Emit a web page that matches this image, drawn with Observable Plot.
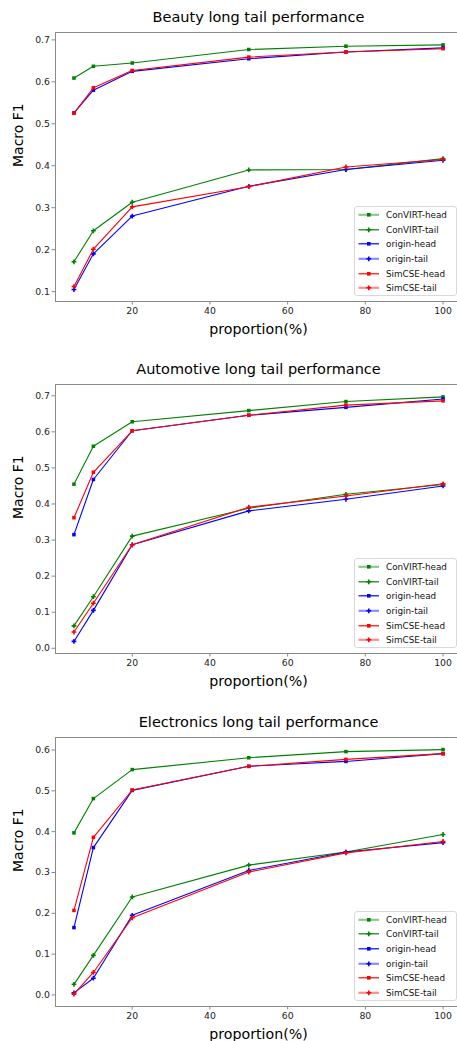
<!DOCTYPE html>
<html>
<head>
<meta charset="utf-8">
<script src="https://cdn.jsdelivr.net/npm/d3@7"></script>
<script src="https://cdn.jsdelivr.net/npm/@observablehq/plot@0.6"></script>
<style>
  html, body { margin: 0; padding: 0; background: #fff; }
  #root { position: relative; width: 457px; height: 1041px; overflow: hidden; font-family: "DejaVu Sans", sans-serif; }
  .panel { position: absolute; left: 0; width: 462px; height: 345px; }
  .legend { position: absolute; left: 354px; width: 101px; height: 88px; border: 1px solid #d9d9d9; border-radius: 3px; background: rgba(255,255,255,0.85); box-sizing: content-box; }
  .legend .row { position: absolute; left: 0; height: 14px; display: flex; align-items: center; }
  .legend .row span { font-size: 8.8px; color: #111; margin-left: 7px; white-space: nowrap; }
</style>
</head>
<body>
<div id="root"></div>
<script>
// ---------- data ----------
const proportions = [5, 10, 20, 50, 75, 100];
const seriesNames = ["ConVIRT-head", "ConVIRT-tail", "origin-head", "origin-tail", "SimCSE-head", "SimCSE-tail"];
const seriesColors = ["green", "green", "blue", "blue", "red", "red"];
const seriesSymbols = ["square", "cross", "square", "cross", "square", "cross"];
const legendFaded = [true, false, false, true, false, true];

const panelTitles = ["Beauty long tail performance", "Automotive long tail performance", "Electronics long tail performance"];
const yTicksBeauty = [0.1, 0.2, 0.3, 0.4, 0.5, 0.6, 0.7];
const yTicksAutomotive = [0.0, 0.1, 0.2, 0.3, 0.4, 0.5, 0.6, 0.7];
const yTicksElectronics = [0.0, 0.1, 0.2, 0.3, 0.4, 0.5, 0.6];
const xTicks = [20, 40, 60, 80, 100];

const beautyConvirtHead = [0.609, 0.637, 0.645, 0.677, 0.685, 0.688];
const beautyConvirtTail = [0.171, 0.245, 0.313, 0.390, 0.391, 0.417];
const beautyOriginHead  = [0.526, 0.580, 0.625, 0.655, 0.671, 0.681];
const beautyOriginTail  = [0.105, 0.190, 0.280, 0.351, 0.391, 0.413];
const beautySimcseHead  = [0.525, 0.586, 0.627, 0.659, 0.671, 0.679];
const beautySimcseTail  = [0.112, 0.201, 0.302, 0.350, 0.397, 0.415];

const autoConvirtHead = [0.455, 0.560, 0.628, 0.659, 0.684, 0.697];
const autoConvirtTail = [0.062, 0.143, 0.311, 0.388, 0.427, 0.454];
const autoOriginHead  = [0.315, 0.468, 0.603, 0.646, 0.668, 0.691];
const autoOriginTail  = [0.019, 0.105, 0.287, 0.381, 0.413, 0.450];
const autoSimcseHead  = [0.362, 0.488, 0.603, 0.646, 0.674, 0.686];
const autoSimcseTail  = [0.045, 0.125, 0.287, 0.391, 0.422, 0.456];

const elecConvirtHead = [0.397, 0.481, 0.552, 0.581, 0.596, 0.601];
const elecConvirtTail = [0.026, 0.097, 0.240, 0.318, 0.350, 0.393];
const elecOriginHead  = [0.165, 0.361, 0.501, 0.560, 0.572, 0.591];
const elecOriginTail  = [0.005, 0.041, 0.195, 0.305, 0.350, 0.373];
const elecSimcseHead  = [0.207, 0.386, 0.502, 0.560, 0.577, 0.591];
const elecSimcseTail  = [0.002, 0.055, 0.189, 0.301, 0.348, 0.376];

const panels = [
  { title: panelTitles[0], top: 0, yTicks: yTicksBeauty, yDomain: [0.0764, 0.7176],
    values: [beautyConvirtHead, beautyConvirtTail, beautyOriginHead, beautyOriginTail, beautySimcseHead, beautySimcseTail] },
  { title: panelTitles[1], top: 352, yTicks: yTicksAutomotive, yDomain: [-0.0145, 0.7313],
    values: [autoConvirtHead, autoConvirtTail, autoOriginHead, autoOriginTail, autoSimcseHead, autoSimcseTail] },
  { title: panelTitles[2], top: 704.5, yTicks: yTicksElectronics, yDomain: [-0.0283, 0.6306],
    values: [elecConvirtHead, elecConvirtTail, elecOriginHead, elecOriginTail, elecSimcseHead, elecSimcseTail] }
];

const root = document.getElementById("root");
const FONT = "DejaVu Sans, sans-serif";

panels.forEach((p) => {
  const rows = [];
  p.values.forEach((vals, si) => {
    vals.forEach((v, i) => rows.push({ series: seriesNames[si], idx: si, x: proportions[i], y: v,
      color: seriesColors[si], symbol: seriesSymbols[si] }));
  });

  const lineMarks = [];
  seriesNames.forEach((name, si) => {
    const d = rows.filter(r => r.idx === si);
    lineMarks.push(Plot.line(d, { x: "x", y: "y", stroke: seriesColors[si], strokeWidth: 1.1 }));
    lineMarks.push(Plot.dot(d, { x: "x", y: "y", fill: seriesColors[si], stroke: "none",
      symbol: seriesSymbols[si], r: seriesSymbols[si] === "square" ? 2.0 : 2.0 }));
  });

  const chart = Plot.plot({
    width: 462,
    height: 345,
    marginTop: 32,
    marginBottom: 44,
    marginLeft: 55,
    marginRight: 1,
    style: { fontFamily: FONT, background: "transparent", overflow: "visible" },
    x: { domain: [0.25, 104.75] },
    y: { domain: p.yDomain },
    marks: [
      Plot.frame({ stroke: "#8a8a8a", strokeWidth: 1 }),
      ...lineMarks,
      Plot.axisX({ ticks: xTicks, tickSize: 3.5, tickPadding: 2, fontSize: 9.3, label: null,
        stroke: "#8a8a8a", color: "#222", tickFormat: d3.format("d") }),
      Plot.axisY({ ticks: p.yTicks, tickSize: 3.5, tickPadding: 2, fontSize: 9.3, label: null,
        stroke: "#8a8a8a", color: "#222", tickFormat: d3.format(".1f") }),
      Plot.text([p.title], { frameAnchor: "top", dy: -21, text: d => d, fontSize: 14.5, fill: "#000" }),
      Plot.text(["proportion(%)"], { frameAnchor: "bottom", dy: 32, text: d => d, fontSize: 14.2, fill: "#000" }),
      Plot.text(["Macro F1"], { frameAnchor: "left", dx: -37, rotate: -90, text: d => d, fontSize: 14, fill: "#000" })
    ]
  });
  const wrap = document.createElement("div");
  wrap.className = "panel";
  wrap.style.top = p.top + "px";
  wrap.appendChild(chart);
  root.appendChild(wrap);

  // legend
  const leg = document.createElement("div");
  leg.className = "legend";
  leg.style.top = (p.top + 206) + "px";
  seriesNames.forEach((name, si) => {
    const row = document.createElement("div");
    row.className = "row";
    row.style.top = (1 + si * 14.67) + "px";
    const c = seriesColors[si];
    const faded = legendFaded[si];
    const mk = seriesSymbols[si] === "square"
      ? `<rect x="9" y="4" width="3.6" height="3.6" fill="${c}"/>`
      : `<path d="M10,3.4h1.6v1.6h1.6v1.6h-1.6v1.6h-1.6v-1.6h-1.6v-1.6h1.6z" fill="${c}"/>`;
    row.innerHTML = `<svg width="28" height="12" style="margin-left:3px"><line x1="0.5" y1="5.8" x2="21" y2="5.8" stroke="${c}" stroke-width="${faded ? 2.2 : 1.2}" stroke-opacity="${faded ? 0.45 : 1}"/>${mk}</svg><span style="margin-left:0px">${name}</span>`;
    leg.appendChild(row);
  });
  root.appendChild(leg);
});
</script>
</body>
</html>
